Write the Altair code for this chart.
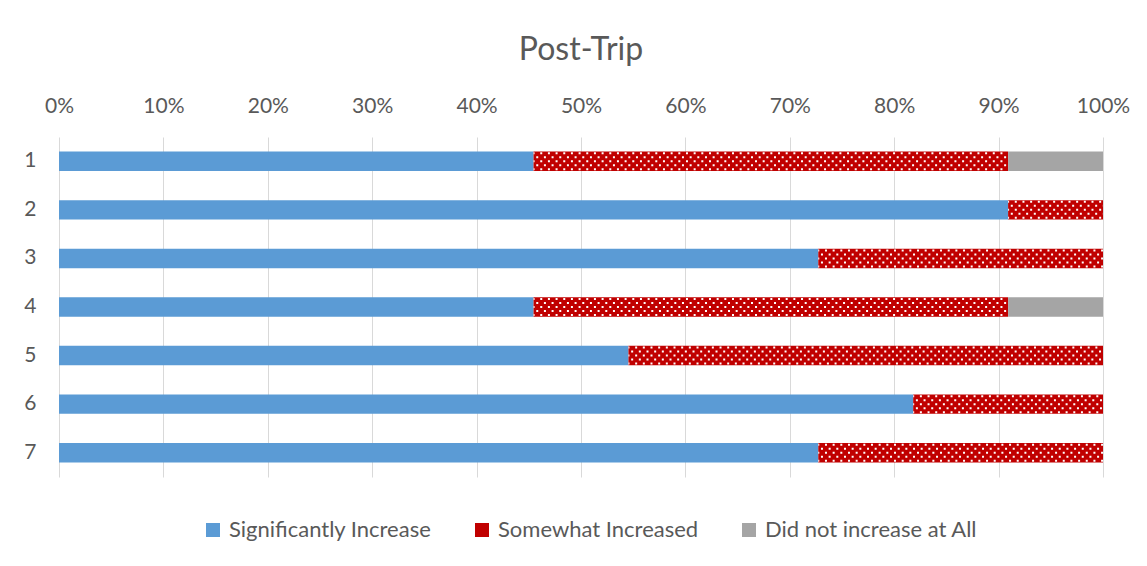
import altair as alt
import pandas as pd

categories = ["1", "2", "3", "4", "5", "6", "7"]
significantly = [5, 10, 8, 5, 6, 9, 8]
somewhat = [5, 1, 3, 5, 5, 2, 3]
did_not = [1, 0, 0, 1, 0, 0, 0]
series = ["Significantly Increase", "Somewhat Increased", "Did not increase at All"]
colors = ["#5B9BD5", "#C00000", "#A5A5A5"]
x_ticks = [0, 0.1, 0.2, 0.3, 0.4, 0.5, 0.6, 0.7, 0.8, 0.9, 1.0]

rows = []
for i, c in enumerate(categories):
    for k, vals in enumerate([significantly, somewhat, did_not]):
        rows.append({"cat": c, "series": series[k], "value": vals[i], "ord": k})
df = pd.DataFrame(rows)

dots = []
for i, c in enumerate(categories):
    total = significantly[i] + somewhat[i] + did_not[i]
    if somewhat[i] > 0:
        dots.append({"cat": c,
                     "start": significantly[i] / total,
                     "end": (significantly[i] + somewhat[i]) / total})
dots_df = pd.DataFrame(dots)

text_color = "#595959"

y_enc = alt.Y("cat:N", sort=categories,
              scale=alt.Scale(paddingInner=0.6, paddingOuter=0.3),
              axis=alt.Axis(title=None, ticks=False, domain=False, grid=False,
                            labelFontSize=21, labelColor=text_color,
                            labelPadding=23))

bars = alt.Chart(df).mark_bar(strokeWidth=0).encode(
    x=alt.X("value:Q", stack="normalize",
            scale=alt.Scale(domain=[0, 1], nice=False),
            axis=alt.Axis(orient="top", format=".0%", values=x_ticks,
                          title=None, grid=True, gridColor="#D9D9D9",
                          domain=False, ticks=False, labelFlush=False,
                          labelFontSize=21, labelColor=text_color,
                          labelPadding=21)),
    y=y_enc,
    color=alt.Color("series:N", sort=series,
                    scale=alt.Scale(domain=series, range=colors),
                    legend=alt.Legend(orient="none", legendX=143, legendY=382,
                                      direction="horizontal", title=None,
                                      symbolType="square", symbolSize=196,
                                      symbolStrokeWidth=0, labelFontSize=22,
                                      labelLimit=500,
                                      labelColor=text_color, columnPadding=39,
                                      labelOffset=5, padding=0)),
    order=alt.Order("ord:Q"),
)

dot_layers = []
for off, dash_off in [(-8, 0.97), (-4, 4.97), (0, 0.97), (4, 4.97), (8, 0.97)]:
    dot_layers.append(
        alt.Chart(dots_df).mark_rule(color="white", strokeWidth=2,
                                     strokeDash=[2, 5.67],
                                     strokeDashOffset=dash_off,
                                     yOffset=off).encode(
            x="start:Q", x2="end:Q", y=alt.Y("cat:N", sort=categories)
        )
    )

chart = alt.layer(bars, *dot_layers).properties(
    width=1044, height=340,
    title=alt.TitleParams("Post-Trip", fontSize=32, font="Lato",
                          fontWeight="normal", color=text_color,
                          anchor="middle", offset=28),
    autosize=alt.AutoSizeParams(type="none"),
    padding={"left": 51, "top": 129, "right": 36, "bottom": 81},
).configure(font="Lato").configure_view(stroke=None)

chart.save("out.html", embed_options={"renderer": "svg", "actions": False})
